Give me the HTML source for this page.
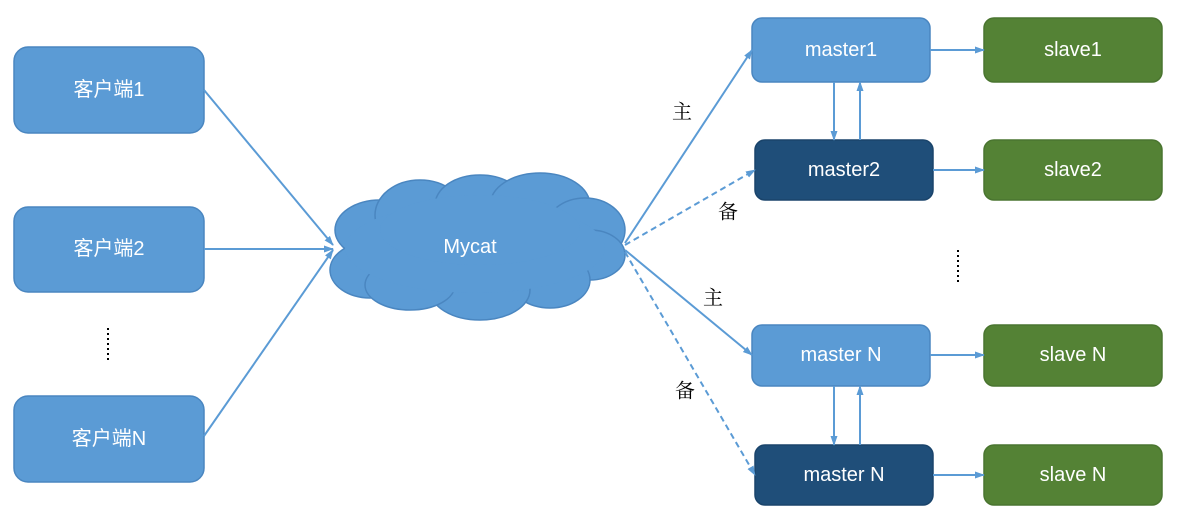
<!DOCTYPE html>
<html><head><meta charset="utf-8"><style>
html,body{margin:0;padding:0;background:#fff;width:1179px;height:514px;overflow:hidden}
svg{display:block}
text{font-family:"Liberation Sans","Noto Sans CJK SC",sans-serif;fill:#fff;font-size:20px;text-anchor:middle;dominant-baseline:central}
.k{fill:#000;font-family:"Noto Serif CJK SC","Noto Sans CJK SC",serif;font-size:20px}
</style></head><body>
<svg width="1179" height="514" viewBox="0 0 1179 514">
<defs>
<marker id="a" markerWidth="10" markerHeight="10" refX="9" refY="5" orient="auto" markerUnits="userSpaceOnUse"><path d="M0,1.5 L10,5 L0,8.5 z" fill="#5b9bd5"/></marker>
</defs>
<g fill="#5b9bd5" stroke="#4a86c0" stroke-width="1.5">
<rect x="14" y="47" width="190" height="86" rx="14"/>
<rect x="14" y="207" width="190" height="85" rx="14"/>
<rect x="14" y="396" width="190" height="86" rx="14"/>
<rect x="752" y="18" width="178" height="64" rx="10"/>
<rect x="752" y="325" width="178" height="61" rx="10"/>
</g>
<g fill="#1f4e79" stroke="#1a446b" stroke-width="1.5">
<rect x="755" y="140" width="178" height="60" rx="10"/>
<rect x="755" y="445" width="178" height="60" rx="10"/>
</g>
<g fill="#548235" stroke="#4a7530" stroke-width="1.5">
<rect x="984" y="18" width="178" height="64" rx="10"/>
<rect x="984" y="140" width="178" height="60" rx="10"/>
<rect x="984" y="325" width="178" height="61" rx="10"/>
<rect x="984" y="445" width="178" height="60" rx="10"/>
</g>
<!-- cloud -->
<g fill="#5b9bd5" stroke="#4a86c0" stroke-width="1.5">
<ellipse cx="380" cy="230" rx="45" ry="30"/>
<ellipse cx="370" cy="270" rx="40" ry="28"/>
<ellipse cx="420" cy="215" rx="45" ry="35"/>
<ellipse cx="480" cy="205" rx="45" ry="30"/>
<ellipse cx="540" cy="205" rx="50" ry="32"/>
<ellipse cx="585" cy="230" rx="40" ry="32"/>
<ellipse cx="590" cy="255" rx="35" ry="25"/>
<ellipse cx="550" cy="280" rx="40" ry="28"/>
<ellipse cx="480" cy="290" rx="50" ry="30"/>
<ellipse cx="410" cy="285" rx="45" ry="25"/>
</g>
<g fill="#5b9bd5">
<ellipse cx="475" cy="248" rx="130" ry="45"/>
<ellipse cx="480" cy="230" rx="100" ry="35"/>
</g>
<text x="470" y="247">Mycat</text>
<g stroke="#5b9bd5" stroke-width="2" fill="none" marker-end="url(#a)">
<line x1="204" y1="90" x2="333" y2="245"/>
<line x1="204" y1="249" x2="333" y2="249"/>
<line x1="204" y1="436" x2="333" y2="250"/>
<line x1="625" y1="243" x2="752" y2="50"/>
<line x1="625" y1="250" x2="752" y2="355"/>
<line x1="625" y1="245" x2="755" y2="170" stroke-dasharray="6,4"/>
<line x1="625" y1="252" x2="755" y2="475" stroke-dasharray="6,4"/>
<line x1="930" y1="50" x2="984" y2="50"/>
<line x1="933" y1="170" x2="984" y2="170"/>
<line x1="930" y1="355" x2="984" y2="355"/>
<line x1="933" y1="475" x2="984" y2="475"/>
<line x1="834" y1="82" x2="834" y2="140"/>
<line x1="860" y1="140" x2="860" y2="82"/>
<line x1="834" y1="386" x2="834" y2="445"/>
<line x1="860" y1="445" x2="860" y2="386"/>
</g>
<text x="109" y="90">客户端1</text>
<text x="109" y="249">客户端2</text>
<text x="109" y="439">客户端N</text>
<text x="841" y="50">master1</text>
<text x="844" y="170">master2</text>
<text x="841" y="355">master N</text>
<text x="844" y="475">master N</text>
<text x="1073" y="50">slave1</text>
<text x="1073" y="170">slave2</text>
<text x="1073" y="355">slave N</text>
<text x="1073" y="475">slave N</text>
<text class="k" x="682" y="110">主</text>
<text class="k" x="728" y="210">备</text>
<text class="k" x="713" y="296">主</text>
<text class="k" x="685" y="389">备</text>
<g stroke="#000" stroke-width="2" stroke-dasharray="2,3">
<line x1="108" y1="328" x2="108" y2="362"/>
<line x1="958" y1="250" x2="958" y2="284"/>
</g>
</svg>
</body></html>
